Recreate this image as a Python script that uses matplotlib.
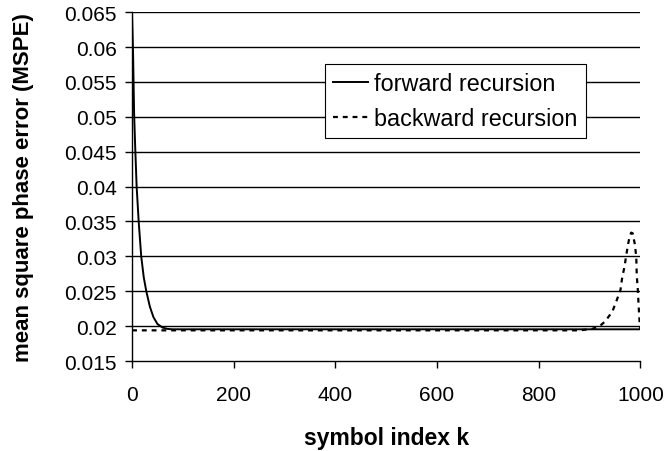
import matplotlib
matplotlib.use("Agg")
import matplotlib.pyplot as plt

plt.rcParams['font.family'] = ['Liberation Sans', 'DejaVu Sans']

# forward recursion
k_fwd = [0, 2, 4, 6, 9, 13, 18, 23, 28, 35, 42, 50, 60, 70, 80, 100, 200, 300, 400,
         500, 600, 700, 800, 900, 1000]
mspe_fwd = [0.0645, 0.0590, 0.0505, 0.0460, 0.0400, 0.0350, 0.0300, 0.0270, 0.0250,
            0.0228, 0.0213, 0.0203, 0.0198, 0.0196, 0.01955, 0.01955, 0.01955, 0.01955,
            0.01955, 0.01955, 0.01955, 0.01955, 0.01955, 0.01955, 0.01955]

# backward recursion
k_bwd = [0, 100, 200, 300, 400, 500, 600, 700, 800, 880, 905, 920, 931, 945, 953, 961,
         964, 969, 972, 976, 979, 982, 985, 989, 992, 993, 995, 997, 999, 1000]
mspe_bwd = [0.0194, 0.0194, 0.0194, 0.0194, 0.0194, 0.0194, 0.0194, 0.0194, 0.0194,
            0.0194, 0.0196, 0.0200, 0.0207, 0.0221, 0.0236, 0.0252, 0.0268, 0.0286,
            0.0300, 0.0318, 0.0328, 0.0334, 0.0333, 0.0318, 0.0300, 0.0272, 0.0253,
            0.0225, 0.0200, 0.0195]

yticks = [0.015, 0.02, 0.025, 0.03, 0.035, 0.04, 0.045, 0.05, 0.055, 0.06, 0.065]
ytick_labels = ['0.015', '0.02', '0.025', '0.03', '0.035', '0.04', '0.045', '0.05',
                '0.055', '0.06', '0.065']
xticks = [0, 200, 400, 600, 800, 1000]

fig = plt.figure(figsize=(6.67, 4.52), dpi=100)
ax = fig.add_axes([0.198, 0.199, 0.762, 0.772])

for y in yticks[1:]:
    ax.axhline(y, color='black', lw=1.0, zorder=1)

ax.plot(k_fwd, mspe_fwd, color='black', lw=1.4, label='forward recursion', zorder=3)
ax.plot(k_bwd, mspe_bwd, color='black', lw=1.6, ls=(0, (2.2, 2.2)),
        label='backward recursion', zorder=3)

ax.set_xlim(0, 1000)
ax.set_ylim(0.015, 0.065)
ax.set_xticks(xticks)
ax.set_yticks(yticks)
ax.set_yticklabels(ytick_labels)
ax.tick_params(axis='both', labelsize=15, direction='out', length=5, width=1,
               color='black')
ax.tick_params(axis='y', pad=6)
ax.tick_params(axis='x', pad=12)

ax.spines['top'].set_visible(False)
ax.spines['right'].set_visible(False)
ax.spines['left'].set_linewidth(1.0)
ax.spines['bottom'].set_linewidth(1.0)

ax.set_xlabel('symbol index k', fontsize=16.5, fontweight='bold', labelpad=16)
ax.set_ylabel('mean square phase error (MSPE)', fontsize=16, fontweight='bold',
              labelpad=22)

leg = ax.legend(loc='upper left', bbox_to_anchor=(0.380, 0.851), fontsize=16.8,
                frameon=True, fancybox=False, handlelength=1.5, handletextpad=0.26,
                borderpad=0.35, labelspacing=0.5, borderaxespad=0)
leg.get_frame().set_edgecolor('black')
leg.get_frame().set_linewidth(0.8)
leg.get_frame().set_alpha(1)
leg.set_zorder(5)

fig.savefig('out.png', dpi=100)
